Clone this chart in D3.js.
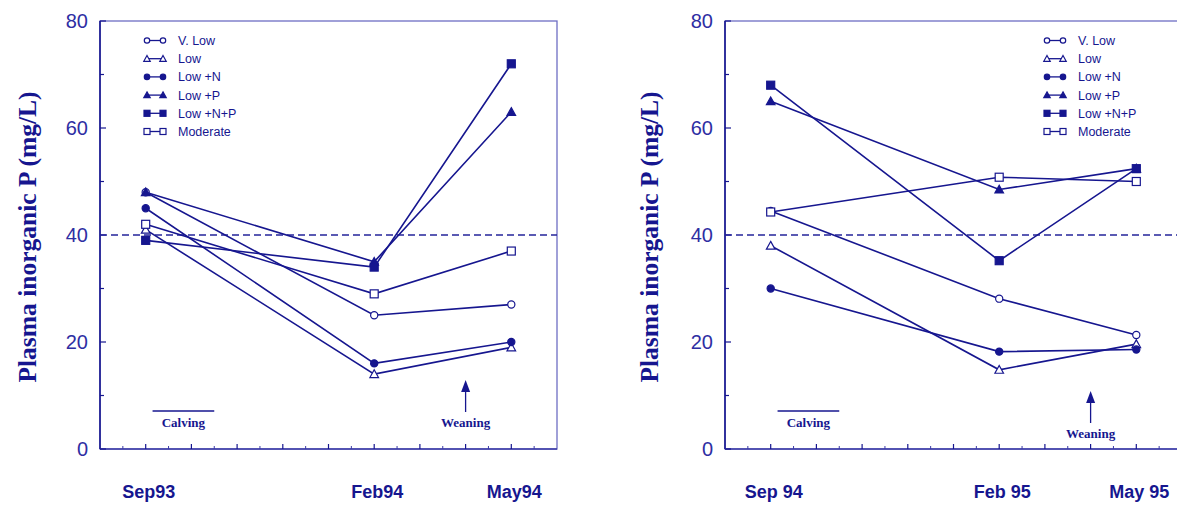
<!DOCTYPE html>
<html lang="en">
<head>
    <meta charset="UTF-8">
    <title>Plasma inorganic P</title>
    <script src="https://d3js.org/d3.v7.min.js"></script>
    <style>
        body, html {
            margin: 0;
            padding: 0;
            background: #fff;
        }
        svg text { fill: #16168f; }
        .tick-label { font-family: "Liberation Sans", Arial, sans-serif; font-size: 20px; fill: #2e2ea3; }
        .x-label { font-family: "Liberation Sans", Arial, sans-serif; font-size: 18px; font-weight: bold; }
        .y-title { font-family: "Liberation Serif", "Times New Roman", serif; font-size: 25.5px; font-weight: bold; }
        .legend-text { font-family: "Liberation Sans", Arial, sans-serif; font-size: 12.5px; }
        .note { font-family: "Liberation Serif", "Times New Roman", serif; font-size: 13px; font-weight: bold; }
    </style>
</head>
<body>
<div id="chart"></div>
<script>
// series names (same in both panels)
const seriesNames = ["V. Low", "Low", "Low +N", "Low +P", "Low +N+P", "Moderate"];

// sampling months, counted from September
const sampleMonths = [0, 5, 8];
const dates1 = ["Sep93", "Feb94", "May94"];
const dates2 = ["Sep 94", "Feb 95", "May 95"];

// 1993-94 values (mg/L)
const vLow1 = [48, 25, 27];
const low1 = [41, 14, 19];
const lowN1 = [45, 16, 20];
const lowP1 = [48, 35, 63];
const lowNP1 = [39, 34, 72];
const moderate1 = [42, 29, 37];

// 1994-95 values (mg/L)
const vLow2 = [44.5, 28.1, 21.3];
const low2 = [38, 14.8, 19.6];
const lowN2 = [30, 18.2, 18.6];
const lowP2 = [65, 48.5, 52.4];
const lowNP2 = [68, 35.2, 52.4];
const moderate2 = [44.3, 50.8, 50];

const yTicks = [0, 20, 40, 60, 80];
const critical = 40;
const calvingSpan = [0.15, 1.5];
const weaningMonth = 7;

const color = "#16168f";
const markers = {
    "V. Low": { shape: "circle", fill: false },
    "Low": { shape: "triangle", fill: false },
    "Low +N": { shape: "circle", fill: true },
    "Low +P": { shape: "triangle", fill: true },
    "Low +N+P": { shape: "square", fill: true },
    "Moderate": { shape: "square", fill: false }
};

const W = 1177, H = 505;
const svg = d3.select("#chart").append("svg")
    .attr("width", W)
    .attr("height", H);

function drawMarker(g, name, cx, cy, k = 1) {
    const m = markers[name];
    const fill = m.fill ? color : "#fff";
    if (m.shape === "circle") {
        g.append("circle").attr("cx", cx).attr("cy", cy).attr("r", 3.6 * k)
            .attr("fill", fill).attr("stroke", color).attr("stroke-width", 1.2);
    } else if (m.shape === "square") {
        const h = 4 * k;
        g.append("rect").attr("x", cx - h).attr("y", cy - h).attr("width", 2 * h).attr("height", 2 * h)
            .attr("fill", fill).attr("stroke", color).attr("stroke-width", 1.2);
    } else {
        const s = 4.3 * k;
        g.append("path").attr("d", `M${cx},${cy - s}L${cx + s},${cy + s * 0.8}L${cx - s},${cy + s * 0.8}Z`)
            .attr("fill", fill).attr("stroke", color).attr("stroke-width", 1.2);
    }
}

function drawPanel(opt) {
    const g = svg.append("g");
    const x = d3.scaleLinear().domain([-1, 9]).range([opt.left, opt.left + 457]);
    const y = d3.scaleLinear().domain([0, 80]).range([449, 21]);

    // frame
    g.append("rect")
        .attr("x", x(-1)).attr("y", y(80))
        .attr("width", x(9) - x(-1)).attr("height", y(0) - y(80))
        .attr("fill", "none").attr("stroke", "#6e6ec4").attr("stroke-width", 1.3);
    g.append("line").attr("x1", x(-1)).attr("x2", x(-1)).attr("y1", y(80)).attr("y2", y(0))
        .attr("stroke", color).attr("stroke-width", 1.6);
    g.append("line").attr("x1", x(-1)).attr("x2", x(9)).attr("y1", y(0)).attr("y2", y(0))
        .attr("stroke", "#3a3aa6").attr("stroke-width", 1.6);

    // y ticks (inward)
    d3.range(0, 81, 10).forEach(v => {
        const len = v % 20 === 0 ? 6 : 4;
        g.append("line").attr("x1", x(-1)).attr("x2", x(-1) + len)
            .attr("y1", y(v)).attr("y2", y(v)).attr("stroke", color).attr("stroke-width", 1.2);
    });
    g.selectAll(".tick-label").data(yTicks).enter().append("text")
        .attr("class", "tick-label")
        .attr("x", x(-1) - 12).attr("y", d => y(d))
        .attr("dy", "0.36em")
        .attr("text-anchor", "end")
        .text(d => d);

    // x ticks (inward)
    d3.range(0, 9).forEach(m => {
        g.append("line").attr("x1", x(m)).attr("x2", x(m)).attr("y1", y(0)).attr("y2", y(0) - 5)
            .attr("stroke", color).attr("stroke-width", 1.2);
    });
    d3.range(-0.5, 9, 1).forEach(m => {
        g.append("line").attr("x1", x(m)).attr("x2", x(m)).attr("y1", y(0)).attr("y2", y(0) - 3)
            .attr("stroke", "#3a3aa6").attr("stroke-width", 1);
    });
    opt.dates.forEach((d, i) => {
        g.append("text").attr("class", "x-label")
            .attr("x", x(sampleMonths[i]) + 3).attr("y", 498)
            .attr("text-anchor", "middle").text(d);
    });

    // axis title
    g.append("text").attr("class", "y-title")
        .attr("transform", `translate(${opt.titleX},237) rotate(-90)`)
        .attr("text-anchor", "middle")
        .attr("dominant-baseline", "central")
        .text("Plasma inorganic P (mg/L)");

    // critical level
    g.append("line").attr("x1", x(-1)).attr("x2", x(9))
        .attr("y1", y(critical)).attr("y2", y(critical))
        .attr("stroke", "#24249a").attr("stroke-width", 1.3)
        .attr("stroke-dasharray", "7,4");

    // series
    const line = d3.line().x((d, i) => x(sampleMonths[i])).y(d => y(d));
    seriesNames.forEach((name, k) => {
        const vals = opt.values[k];
        g.append("path").attr("d", line(vals))
            .attr("fill", "none").attr("stroke", color).attr("stroke-width", 1.6);
    });
    seriesNames.forEach((name, k) => {
        opt.values[k].forEach((v, i) => drawMarker(g, name, x(sampleMonths[i]), y(v)));
    });

    // legend
    const lg = g.append("g");
    seriesNames.forEach((name, k) => {
        const ly = 40.5 + k * 18.2;
        lg.append("line").attr("x1", opt.legendX).attr("x2", opt.legendX + 16)
            .attr("y1", ly).attr("y2", ly).attr("stroke", color).attr("stroke-width", 1.3);
        drawMarker(lg, name, opt.legendX, ly, 0.75);
        drawMarker(lg, name, opt.legendX + 16, ly, 0.75);
        lg.append("text").attr("class", "legend-text")
            .attr("x", opt.legendX + 31).attr("y", ly).attr("dy", "0.36em").text(name);
    });

    // calving
    g.append("line").attr("x1", x(calvingSpan[0])).attr("x2", x(calvingSpan[1]))
        .attr("y1", 411).attr("y2", 411).attr("stroke", color).attr("stroke-width", 1.6);
    g.append("text").attr("class", "note")
        .attr("x", (x(calvingSpan[0]) + x(calvingSpan[1])) / 2).attr("y", 427)
        .attr("text-anchor", "middle").text("Calving");

    // weaning
    const wx = x(weaningMonth);
    g.append("line").attr("x1", wx).attr("x2", wx)
        .attr("y1", opt.arrowTip + 10).attr("y2", opt.arrowTip + 32)
        .attr("stroke", color).attr("stroke-width", 1.3);
    g.append("path")
        .attr("d", `M${wx},${opt.arrowTip}L${wx + 4.5},${opt.arrowTip + 12}L${wx - 4.5},${opt.arrowTip + 12}Z`)
        .attr("fill", color);
    g.append("text").attr("class", "note")
        .attr("x", wx).attr("y", opt.arrowTip + 47)
        .attr("text-anchor", "middle").text("Weaning");
}

drawPanel({
    left: 100, titleX: 27, legendX: 147, arrowTip: 380,
    dates: dates1,
    values: [vLow1, low1, lowN1, lowP1, lowNP1, moderate1]
});
drawPanel({
    left: 725, titleX: 649, legendX: 1047, arrowTip: 391,
    dates: dates2,
    values: [vLow2, low2, lowN2, lowP2, lowNP2, moderate2]
});
</script>
</body>
</html>
